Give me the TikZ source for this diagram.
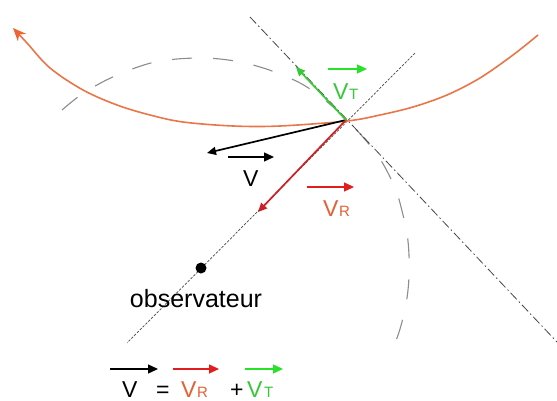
\documentclass[tikz,border=0pt]{standalone}
\usepackage{fontspec}
\setmainfont{Liberation Sans}
\usetikzlibrary{arrows.meta}
\definecolor{orangec}{RGB}{232,118,72}
\definecolor{orangearr}{RGB}{240,100,50}
\definecolor{redc}{RGB}{205,32,38}
\definecolor{redarr}{RGB}{225,30,30}
\definecolor{redlab}{RGB}{228,96,52}
\definecolor{greenc}{RGB}{55,200,55}
\definecolor{greenarr}{RGB}{40,225,40}
\definecolor{dashgray}{RGB}{140,140,140}
\definecolor{linegray}{RGB}{70,70,70}
\begin{document}
\begin{tikzpicture}[x=1pt,y=-1pt,
  vec/.style={line width=1.7pt,-{Triangle[length=9pt,width=8pt]}},
  labarrow/.style={line width=1.3pt,-{Triangle[length=10pt,width=9pt]}},
  lab/.style={inner sep=0pt,anchor=base west,font=\fontsize{23}{23}\selectfont},
  sublab/.style={inner sep=0pt,anchor=base west,font=\fontsize{15}{15}\selectfont},
  circdash/.style={dashgray,line width=1.1pt,dash pattern=on 20pt off 21pt},
  dashdotline/.style={linegray,line width=0.8pt,dash pattern=on 9pt off 3pt on 1.5pt off 3pt},
  dotline/.style={linegray,line width=0.7pt,dash pattern=on 2.5pt off 1.5pt}]
\useasboundingbox (0,0) rectangle (557,401);

% grey dashed curve
\draw[circdash] plot[smooth,tension=0.6] coordinates {(62,110) (78,97) (97,85) (115,76) (135,68) (155,62) (177,59) (200,58) (220,59) (240,62) (260,67) (280,74) (300,83) (317,94) (340,113) (362,136) (378,156) (388,173) (397,193) (403,215) (407,233) (409,255) (409,277) (407,298) (403,318) (397,338) (388,358)};

% key points
\coordinate (P) at (346,120);
\coordinate (L1a) at (250,17);
\coordinate (L1b) at (557,342);
\coordinate (L2a) at (415,53);
\coordinate (L2b) at (127,343);
\coordinate (VRtip) at (258,212);
\coordinate (VTtip) at (296,67);
\coordinate (Vtip) at (207,153);

\draw[dashdotline] (L1a) -- (L1b);
\draw[dotline] (L2a) -- (L2b);

% orange trajectory
\draw[orangec,line width=1.6pt,{Stealth[length=13pt,width=11pt,inset=4pt,orangearr]}-] plot[smooth,tension=0.55] coordinates {(13,28) (27,43) (50,68) (83,90) (117,105) (150,115) (183,122) (233,126) (280,126) (347,121) (380,115) (413,107) (447,95) (480,78) (513,55) (538,35)};

% vectors
\draw[vec,black] (P) -- (Vtip);
\draw[vec,redc] (P) -- (VRtip);
\draw[vec,greenc] (P) -- (VTtip);

% observer
\node[circle,fill=black,inner sep=0pt,minimum size=11pt] (obs) at (201,268) {};
\node[inner sep=0pt,anchor=base,font=\fontsize{25}{25}\selectfont] (obslab) at (196,307) {observateur};

% label V
\coordinate (a1s) at (228,157); \coordinate (a1e) at (274,157);
\draw[labarrow,black] (a1s) -- (a1e);
\node[lab] (lV) at (243,186) {V};

% label VR
\coordinate (a2s) at (307,187); \coordinate (a2e) at (354,187);
\draw[labarrow,redarr] (a2s) -- (a2e);
\node[lab,text=redlab] (lVR) at (323,216) {V};
\node[sublab,text=redlab] (lVRs) at (339,216) {R};

% label VT
\coordinate (a3s) at (328,69); \coordinate (a3e) at (367,69);
\draw[labarrow,greenarr] (a3s) -- (a3e);
\node[lab,text=greenc] (lVT) at (333,100) {V};
\node[sublab,text=greenc] (lVTs) at (349,100) {T};

% bottom equation
\coordinate (b1s) at (110,369); \coordinate (b1e) at (158,369);
\draw[labarrow,black] (b1s) -- (b1e);
\node[lab] (eV) at (122,397) {V};
\node[lab] (eq) at (156,397) {=};
\coordinate (b2s) at (173,369); \coordinate (b2e) at (219,369);
\draw[labarrow,redarr] (b2s) -- (b2e);
\node[lab,text=redlab] (eVR) at (181,397) {V};
\node[sublab,text=redlab] (eVRs) at (197,397) {R};
\node[lab] (plus) at (230,397) {+};
\coordinate (b3s) at (245,369); \coordinate (b3e) at (283,369);
\draw[labarrow,greenarr] (b3s) -- (b3e);
\node[lab,text=greenc] (eVT) at (247,397) {V};
\node[sublab,text=greenc] (eVTs) at (264,397) {T};
\end{tikzpicture}
\end{document}
